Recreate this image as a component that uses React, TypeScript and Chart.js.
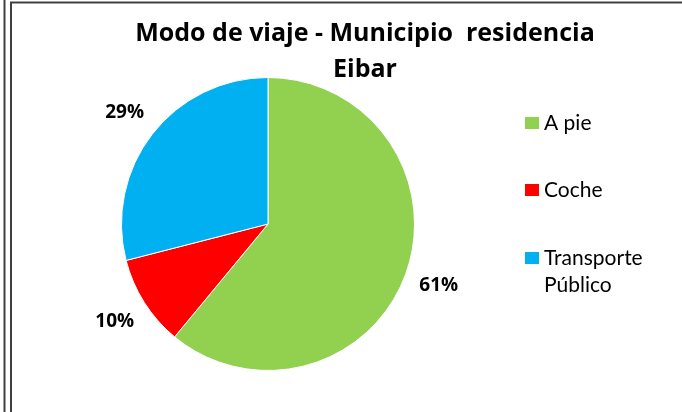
import { useEffect, useRef } from 'react';
import { Chart, registerables } from 'chart.js';

Chart.register(...registerables);

const categories = ['A pie', 'Coche', 'Transporte Público'];
const shares = [61, 10, 29];
const colors = ['#92D050', '#FF0000', '#00B0F0'];
const titleLines = ['Modo de viaje - Municipio  residencia', 'Eibar'];

const FONT = 'Lato, "Open Sans", sans-serif';
const TITLE_FONT = '"Open Sans", Lato, sans-serif';

const framePlugin = {
  id: 'frame',
  beforeDraw(chart: any) {
    const ctx = chart.ctx;
    const w = chart.width;
    const h = chart.height;
    ctx.save();
    ctx.fillStyle = '#ffffff';
    ctx.fillRect(0, 0, w, h);
    ctx.strokeStyle = '#404040';
    ctx.lineWidth = 2;
    ctx.beginPath();
    ctx.moveTo(4.5, 0);
    ctx.lineTo(4.5, h);
    ctx.moveTo(11, h);
    ctx.lineTo(11, 2.5);
    ctx.lineTo(w, 2.5);
    ctx.stroke();
    ctx.restore();
  },
};

const titlePlugin = {
  id: 'customTitle',
  afterDraw(chart: any) {
    const ctx = chart.ctx;
    ctx.save();
    ctx.fillStyle = '#000000';
    ctx.font = `bold 25px ${TITLE_FONT}`;
    ctx.textAlign = 'center';
    ctx.textBaseline = 'alphabetic';
    titleLines.forEach((line, i) => {
      ctx.fillText(line, 365, 41 + i * 36);
    });
    ctx.restore();
  },
};

const percentPlugin = {
  id: 'percentLabels',
  afterDatasetsDraw(chart: any) {
    const ctx = chart.ctx;
    const meta = chart.getDatasetMeta(0);
    const data = chart.data.datasets[0].data as number[];
    const total = data.reduce((a, b) => a + b, 0);
    ctx.save();
    ctx.fillStyle = '#000000';
    ctx.font = `bold 19px ${TITLE_FONT}`;
    ctx.textAlign = 'center';
    ctx.textBaseline = 'middle';
    meta.data.forEach((arc: any, i: number) => {
      const { x, y, startAngle, endAngle, outerRadius } = arc.getProps(
        ['x', 'y', 'startAngle', 'endAngle', 'outerRadius'],
        true
      );
      const mid = (startAngle + endAngle) / 2;
      const r = outerRadius + 35;
      const pct = Math.round((data[i] / total) * 100);
      ctx.fillText(pct + '%', x + Math.cos(mid) * r, y + Math.sin(mid) * r);
    });
    ctx.restore();
  },
};

const legendPlugin = {
  id: 'customLegend',
  afterDraw(chart: any) {
    const ctx = chart.ctx;
    const labels = chart.data.labels as string[];
    const bg = chart.data.datasets[0].backgroundColor as string[];
    const rowY = [123, 190, 258];
    const lineH = 27;
    ctx.save();
    ctx.font = `21px ${FONT}`;
    ctx.textBaseline = 'middle';
    ctx.textAlign = 'left';
    labels.forEach((label, i) => {
      const y = rowY[i];
      ctx.fillStyle = bg[i];
      ctx.fillRect(525, y - 6, 14, 12);
      const words = label.split(' ');
      const lines: string[] = [];
      let cur = '';
      words.forEach((wd) => {
        const test = cur ? cur + ' ' + wd : wd;
        if (ctx.measureText(test).width > 120 && cur) {
          lines.push(cur);
          cur = wd;
        } else cur = test;
      });
      if (cur) lines.push(cur);
      ctx.fillStyle = '#000000';
      lines.forEach((ln, j) => ctx.fillText(ln, 544, y + j * lineH));
    });
    ctx.restore();
  },
};

export default function App() {
  const ref = useRef<HTMLCanvasElement | null>(null);

  useEffect(() => {
    document.body.style.margin = '0';
    if (!ref.current) return;
    const chart = new Chart(ref.current, {
      type: 'pie',
      data: {
        labels: categories,
        datasets: [
          {
            data: shares,
            backgroundColor: colors,
            borderColor: '#ffffff',
            borderWidth: 1,
          },
        ],
      },
      options: {
        responsive: false,
        animation: false,
        layout: { padding: { left: 121, right: 267, top: 77, bottom: 41 } },
        plugins: {
          legend: { display: false },
          title: { display: false },
          tooltip: { enabled: false },
        },
      },
      plugins: [framePlugin, titlePlugin, percentPlugin, legendPlugin],
    });
    return () => chart.destroy();
  }, []);

  return (
    <div style={{ width: 682, height: 412 }}>
      <canvas ref={ref} width={682} height={412} style={{ display: 'block' }} />
    </div>
  );
}
